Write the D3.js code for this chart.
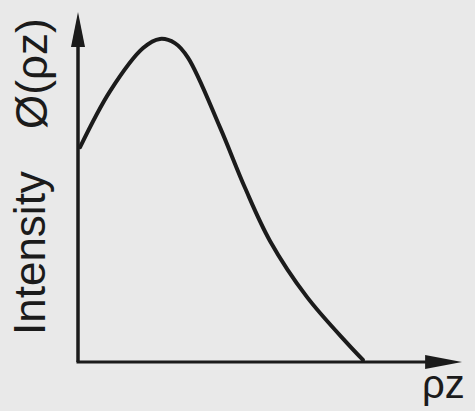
<!DOCTYPE html>
<html>
<head>
<meta charset="utf-8">
<script src="https://cdn.jsdelivr.net/npm/d3@7"></script>
<style>
  body { margin: 0; background: #e9e9e9; }
  svg { display: block; }
</style>
</head>
<body>
<svg width="475" height="411"></svg>
<script>
// depth (rho z) and intensity phi(rho z)
var rhoZ = [0.007, 0.107, 0.217, 0.273, 0.323, 0.367, 0.473, 0.557, 0.64, 0.763, 0.897, 0.95];
var intensity = [0.614, 0.774, 0.897, 0.923, 0.911, 0.869, 0.671, 0.497, 0.346, 0.186, 0.054, 0.006];

var yLabel = 'Intensity';
var yLabel2 = 'Ø(ρz)';
var xLabel = 'ρz';

var ink = '#1b1b1b';

var svg = d3.select('svg');

svg.append('rect')
  .attr('width', 475)
  .attr('height', 411)
  .style('fill', '#e9e9e9');

var x = d3.scaleLinear().domain([0, 1.28]).range([78, 462]);
var y = d3.scaleLinear().domain([0, 1]).range([362, 12]);

var points = rhoZ.map(function(d, i){ return [d, intensity[i]]; });

//axes drawn as plain lines with arrow heads
svg.append('line')
  .attr('x1', x(0)).attr('y1', y(0))
  .attr('x2', x(0)).attr('y2', y(0.96))
  .style('stroke', ink)
  .style('stroke-width', 3.5);

svg.append('line')
  .attr('x1', x(0) - 1.5).attr('y1', y(0))
  .attr('x2', x(1.2)).attr('y2', y(0))
  .style('stroke', ink)
  .style('stroke-width', 3);

svg.append('path')
  .attr('d', 'M' + x(0) + ',' + y(1) +
    'L' + (x(0) + 7) + ',' + y(0.9) +
    'L' + (x(0) - 7) + ',' + y(0.9) + 'Z')
  .style('fill', ink);

svg.append('path')
  .attr('d', 'M' + x(1.28) + ',' + y(0) +
    'L' + x(1.157) + ',' + (y(0) - 7) +
    'L' + x(1.157) + ',' + (y(0) + 7) + 'Z')
  .style('fill', ink);

var line = d3.line()
  .x(function(d){ return x(d[0]); })
  .y(function(d){ return y(d[1]); })
  .curve(d3.curveCatmullRom.alpha(0.5));

svg.append('path')
  .datum(points)
  .attr('d', line)
  .style('fill', 'none')
  .style('stroke', ink)
  .style('stroke-width', 4)
  .style('stroke-linecap', 'round');

//labels
svg.append('text')
  .attr('transform', 'translate(45,335) rotate(-90)')
  .style('font-family', '"Liberation Sans", Arial, sans-serif')
  .style('font-size', '44px')
  .style('fill', ink)
  .text(yLabel);

svg.append('text')
  .attr('transform', 'translate(47,129) rotate(-90)')
  .style('font-family', '"Liberation Sans", Arial, sans-serif')
  .style('font-size', '44px')
  .style('fill', ink)
  .text(yLabel2);

svg.append('text')
  .attr('x', 422)
  .attr('y', 398)
  .style('font-family', '"Liberation Sans", Arial, sans-serif')
  .style('font-size', '40px')
  .style('fill', ink)
  .text(xLabel);
</script>
</body>
</html>
